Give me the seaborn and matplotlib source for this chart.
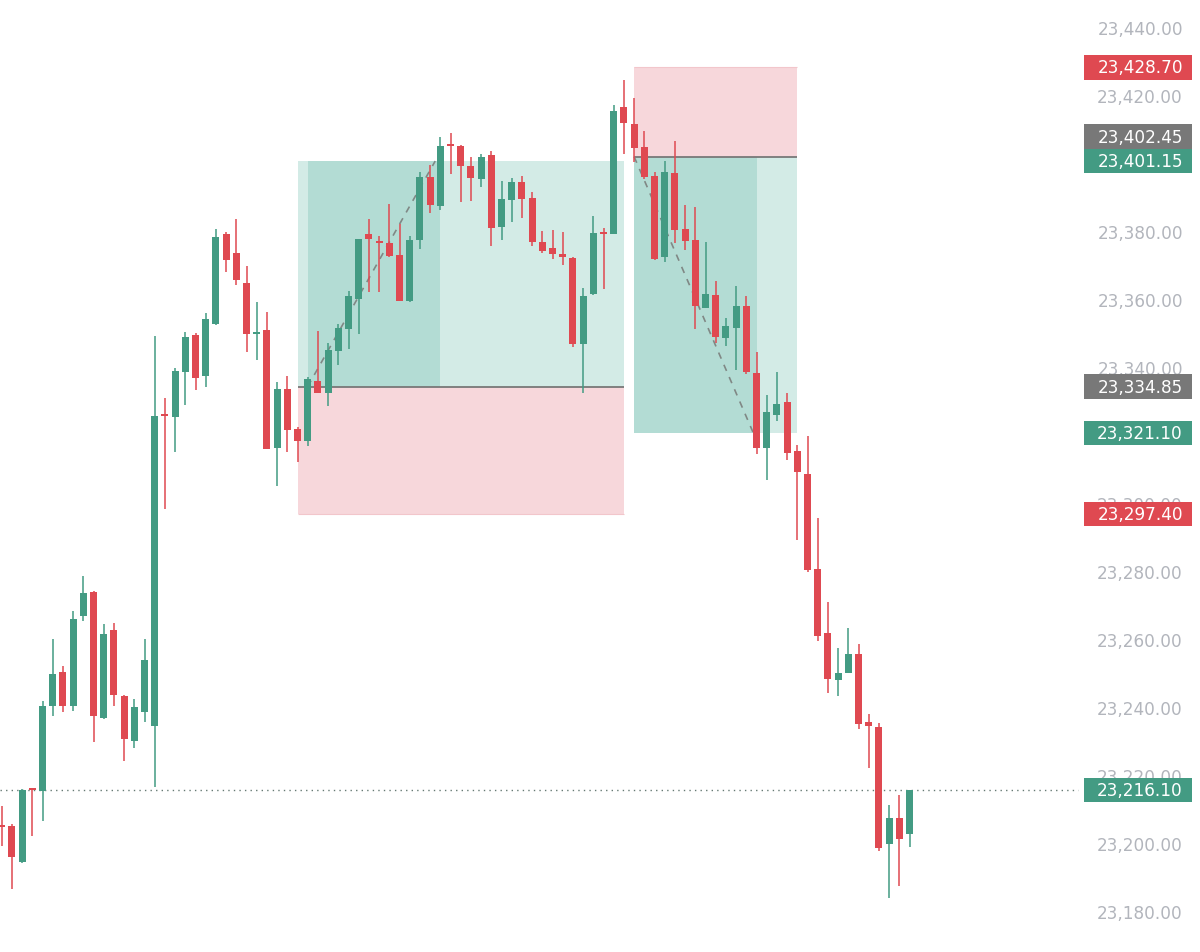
import matplotlib.pyplot as plt
import matplotlib.transforms as mtransforms
from matplotlib.patches import Rectangle
import seaborn as sns
import numpy as np

# OHLC per bar
opens = [23205.9, 23205.7, 23194.9, 23216.7, 23216.0, 23241.0, 23250.8, 23240.8, 23267.3, 23274.3,
         23237.3, 23263.2, 23243.9, 23230.7, 23239.2, 23235.1, 23326.8, 23325.8, 23339.0, 23350.0,
         23337.9, 23353.2, 23379.7, 23374.0, 23365.3, 23350.3, 23351.5, 23316.7, 23334.1, 23322.4,
         23318.9, 23336.6, 23332.9, 23345.4, 23351.8, 23360.6, 23379.7, 23377.7, 23377.0, 23373.5,
         23360.1, 23378.0, 23396.6, 23388.0, 23406.2, 23405.5, 23399.6, 23395.9, 23402.9, 23381.7,
         23389.8, 23394.9, 23390.2, 23377.3, 23375.5, 23373.8, 23372.6, 23347.3, 23362.0, 23380.4,
         23379.7, 23417.0, 23412.1, 23405.4, 23396.9, 23372.9, 23397.6, 23381.2, 23377.9, 23357.9,
         23361.8, 23349.0, 23352.1, 23358.6, 23338.8, 23316.9, 23326.5, 23330.2, 23316.0, 23309.1,
         23281.3, 23262.3, 23248.6, 23250.6, 23256.2, 23236.2, 23234.6, 23200.4, 23207.8, 23203.3]
highs = [23211.6, 23206.2, 23216.5, 23216.9, 23242.4, 23260.6, 23252.7, 23268.7, 23279.0, 23274.6,
         23265.0, 23265.2, 23244.0, 23242.9, 23260.6, 23349.8, 23331.5, 23340.2, 23350.8, 23350.5,
         23356.4, 23381.2, 23380.4, 23384.1, 23370.2, 23359.6, 23356.7, 23336.3, 23338.0, 23322.9,
         23337.6, 23351.3, 23347.6, 23353.2, 23362.9, 23378.3, 23384.1, 23379.0, 23388.5, 23382.6,
         23379.0, 23397.9, 23400.0, 23408.1, 23409.4, 23405.9, 23402.4, 23403.2, 23404.2, 23395.4,
         23396.2, 23396.9, 23392.1, 23380.7, 23381.0, 23380.2, 23372.8, 23363.9, 23385.1, 23381.4,
         23417.7, 23425.1, 23419.7, 23410.1, 23397.9, 23401.1, 23407.1, 23388.3, 23387.6, 23377.3,
         23366.0, 23354.9, 23364.5, 23361.4, 23344.9, 23332.4, 23339.2, 23332.9, 23317.5, 23320.4,
         23296.1, 23271.6, 23257.9, 23263.8, 23259.0, 23238.5, 23236.0, 23211.7, 23214.7, 23216.2]
lows = [23199.6, 23187.1, 23194.7, 23202.7, 23207.1, 23238.0, 23239.2, 23239.5, 23265.8, 23230.2,
        23237.0, 23241.0, 23224.8, 23228.4, 23236.3, 23217.0, 23298.8, 23315.7, 23329.4, 23333.9,
        23334.8, 23352.9, 23368.4, 23364.7, 23345.1, 23342.7, 23316.4, 23305.5, 23315.7, 23312.6,
        23317.4, 23332.9, 23329.2, 23341.2, 23345.9, 23350.3, 23362.7, 23362.7, 23372.9, 23359.9,
        23359.8, 23375.3, 23385.8, 23386.8, 23397.4, 23389.2, 23389.5, 23393.6, 23376.3, 23377.9,
        23383.1, 23384.4, 23376.1, 23374.1, 23372.4, 23370.6, 23346.4, 23332.9, 23361.9, 23363.5,
        23379.6, 23403.2, 23400.8, 23395.9, 23372.1, 23371.4, 23377.0, 23375.1, 23351.8, 23357.8,
        23347.6, 23346.9, 23339.8, 23338.5, 23314.9, 23307.4, 23324.8, 23313.1, 23289.6, 23280.4,
        23260.0, 23244.8, 23243.8, 23250.5, 23234.1, 23222.5, 23198.2, 23184.5, 23187.8, 23199.5]
closes = [23205.4, 23196.6, 23216.3, 23216.3, 23241.0, 23250.3, 23240.8, 23266.5, 23274.0, 23237.9,
          23262.0, 23244.1, 23231.2, 23240.7, 23254.4, 23326.1, 23326.3, 23339.3, 23349.5, 23337.4,
          23354.7, 23378.7, 23372.1, 23366.2, 23350.3, 23350.7, 23316.5, 23334.1, 23322.1, 23318.9,
          23337.1, 23332.9, 23345.7, 23352.0, 23361.4, 23378.2, 23378.2, 23377.1, 23373.1, 23360.0,
          23378.0, 23396.6, 23388.2, 23405.7, 23405.7, 23399.6, 23396.1, 23402.4, 23381.4, 23390.0,
          23394.9, 23390.0, 23377.3, 23374.8, 23373.8, 23372.9, 23347.3, 23361.4, 23379.9, 23379.7,
          23416.0, 23412.4, 23404.9, 23396.4, 23372.4, 23398.0, 23381.0, 23377.7, 23358.4, 23362.1,
          23349.3, 23352.7, 23358.6, 23339.0, 23316.9, 23327.4, 23329.7, 23315.2, 23309.6, 23280.9,
          23261.5, 23248.8, 23250.6, 23256.2, 23235.7, 23235.0, 23199.2, 23207.8, 23201.9, 23216.1]

# long / short position tools (bar indices and prices)
long_bars = [29, 30, 43, 61]          # tool start, entry bar, target hit bar, tool end
long_prices = [23334.85, 23401.15, 23297.40]   # entry, target, stop
long_path_end = 42.5
short_bars = [62, 62, 74, 78]
short_prices = [23402.45, 23321.10, 23428.70]
short_path_end = 73.7
last_price = 23216.10

y_ticks = [23180, 23200, 23220, 23240, 23260, 23280, 23300, 23320, 23340,
           23360, 23380, 23400, 23420, 23440]

GREEN = '#439b83'
RED = '#df4951'
LIGHT_G = '#d3ebe6'
DARK_G = '#b3dcd4'
PINK = '#f7d7db'
GRAY = '#787878'
TICK_COLOR = '#b2b5bc'

sns.set_theme(style="white")
plt.rcParams['font.family'] = ['DejaVu Sans']

fig = plt.figure(figsize=(12, 9.53), dpi=100)
ax = fig.add_axes([0, 0, 1, 1])
ax.set_xlim(-0.167, 117.48)
ax.set_ylim(23168.53, 23448.82)
ax.axis('off')


def position_tool(bars, prices, path_end):
    start, dark_start, hit, end = bars
    entry, target, stop = prices
    ax.fill_between([start, end], entry, stop, color=PINK, lw=0, zorder=1)
    ax.hlines(stop, start, end, color='#f2c6cb', lw=0.8, zorder=1.5)
    ax.fill_between([start, end], entry, target, color=LIGHT_G, lw=0, zorder=1)
    ax.fill_between([dark_start, hit], entry, target, color=DARK_G, lw=0, zorder=2)
    ax.hlines(entry, start, end, color=GRAY, lw=1.3, zorder=3)
    ax.plot([dark_start, path_end], [entry, target], ls=(0, (4, 4)),
            color='#808885', lw=1.2, zorder=3)


position_tool(long_bars, long_prices, long_path_end)
position_tool(short_bars, short_prices, short_path_end)

# candles
x = np.arange(len(opens))
o, h, l, c = map(np.array, (opens, highs, lows, closes))
colors = np.where(c >= o, GREEN, RED)
ax.vlines(x, l, h, colors=colors, lw=1.1, zorder=4)
body_lo = np.minimum(o, c)
body_h = np.maximum(np.abs(c - o), 0.45)
ax.bar(x, body_h, bottom=body_lo, width=0.68, color=colors, linewidth=0, zorder=5)

# last price dotted line
ax.axhline(last_price, xmin=0, xmax=0.898, color='#667a74', lw=1.0,
           ls=(0, (1, 3)), zorder=3)

# price tags on the scale
tags = [
    (last_price, GREEN),
    (long_prices[2], RED),
    (short_prices[1], GREEN),
    (long_prices[0], GRAY),
    (long_prices[1], GREEN),
    (short_prices[0], GRAY),
    (short_prices[2], RED),
]
box_h = 24.4 / 3.4
trans = mtransforms.blended_transform_factory(ax.transAxes, ax.transData)

# right price scale (labels fully covered by a tag are not visible, skip them)
for t in y_ticks:
    if min(abs(t - v) for v, _ in tags) < 2.0:
        continue
    ax.text(0.9858, t, f"{t:,.2f}", transform=trans, ha='right', va='center',
            fontsize=12.2, color=TICK_COLOR, zorder=6)

prev = -np.inf
for value, col in sorted(tags):
    center = max(value, prev + box_h)
    prev = center
    ax.add_patch(Rectangle((0.9036, center - box_h / 2), 0.0897, box_h,
                           transform=trans, color=col, lw=0, zorder=7))
    ax.text(0.9858, center, f"{value:,.2f}", transform=trans, ha='right',
            va='center', fontsize=12.2, color='white', zorder=8)

fig.savefig('out.png', dpi=100, facecolor='white')
